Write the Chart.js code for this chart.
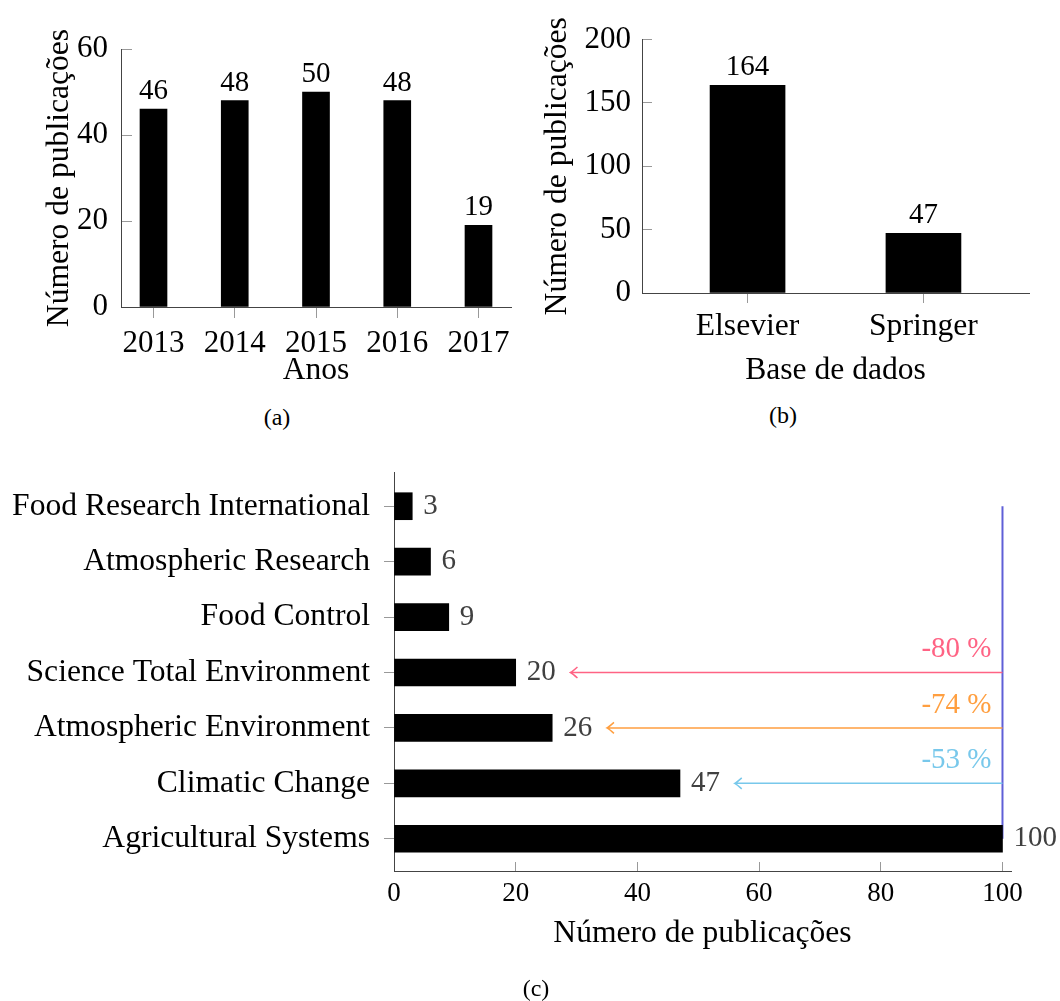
<!DOCTYPE html>
<html>
<head>
<meta charset="utf-8">
<title>Publicações</title>
<script src="https://cdn.jsdelivr.net/npm/chart.js@4"></script>
<style>
  body { margin: 0; background: #fff; }
  #page { position: relative; width: 1060px; height: 1001px; overflow: hidden; }
  canvas { position: absolute; }
  #chartA { left: 0; top: 0; }
  #chartB { left: 520px; top: 0; }
  #chartC { left: 0; top: 440px; }
  .caption {
    position: absolute;
    font-family: 'Liberation Serif', 'Times New Roman', serif;
    font-size: 24px;
    line-height: 24px;
    transform: translate(-50%, -50%);
  }
</style>
</head>
<body>
<div id="page">
  <canvas id="chartA" width="530" height="400"></canvas>
  <canvas id="chartB" width="540" height="400"></canvas>
  <canvas id="chartC" width="1060" height="561"></canvas>
  <div class="caption" style="left:277px; top:417px">(a)</div>
  <div class="caption" style="left:783px; top:415px">(b)</div>
  <div class="caption" style="left:536px; top:988px">(c)</div>
</div>
<script>
// (a) publicações por ano
const anos = [2013, 2014, 2015, 2016, 2017];
const pubPorAno = [46, 48, 50, 48, 19];
const ticksAnoY = [0, 20, 40, 60];

// (b) publicações por base de dados
const bases = ['Elsevier', 'Springer'];
const pubPorBase = [164, 47];
const ticksBaseY = [0, 50, 100, 150, 200];

// (c) publicações por periódico (de baixo para cima)
const periodicos = [
  'Agricultural Systems',
  'Climatic Change',
  'Atmospheric Environment',
  'Science Total Environment',
  'Food Control',
  'Atmospheric Research',
  'Food Research International'
];
const pubPorPeriodico = [100, 47, 26, 20, 9, 6, 3];
const ticksPeriodicoX = [0, 20, 40, 60, 80, 100];
// periódicos comparados com o primeiro (Agricultural Systems)
const comparados = ['Science Total Environment', 'Atmospheric Environment', 'Climatic Change'];
const coresComparacao = ['rgb(255, 99, 132)', 'rgb(255, 159, 64)', 'rgb(120, 200, 235)'];

const serif = "'Liberation Serif', 'Times New Roman', serif";
const axisColor = '#444';
const tickColor = '#999';
const textFont = { family: serif, size: 31.6 };

function fixTicks(values) {
  return function (scale) { scale.ticks = values.map(v => ({ value: v })); };
}

// rótulos de valor sobre / ao lado das barras
function valueLabels(values, horizontal, size, color) {
  return {
    id: 'valueLabels',
    afterDatasetsDraw(chart) {
      const ctx = chart.ctx;
      ctx.save();
      ctx.font = size + 'px ' + serif;
      ctx.fillStyle = color;
      chart.getDatasetMeta(0).data.forEach((bar, i) => {
        if (horizontal) {
          ctx.textAlign = 'left';
          ctx.textBaseline = 'middle';
          ctx.fillText(String(values[i]), bar.x + 11, bar.y);
        } else {
          ctx.textAlign = 'center';
          ctx.textBaseline = 'alphabetic';
          ctx.fillText(String(values[i]), bar.x, bar.y - 10);
        }
      });
      ctx.restore();
    }
  };
}

// (a)
new Chart(document.getElementById('chartA'), {
  type: 'bar',
  data: {
    datasets: [{
      data: anos.map((a, i) => ({ x: a, y: pubPorAno[i] })),
      backgroundColor: '#000',
      barThickness: 27
    }]
  },
  options: {
    responsive: false,
    animation: false,
    layout: { padding: { top: 49, right: 19, bottom: 0, left: 0 } },
    plugins: { legend: { display: false }, tooltip: { enabled: false } },
    scales: {
      x: {
        type: 'linear', min: 2012.6, max: 2017.4, offset: false,
        afterBuildTicks: fixTicks(anos),
        afterFit: s => { s.height = 93; },
        grid: { offset: false, drawOnChartArea: false, tickLength: 11, color: tickColor },
        border: { color: axisColor, width: 1 },
        ticks: { font: { family: serif, size: 31 }, color: '#000', padding: 7,
                 maxRotation: 0, autoSkip: false, callback: v => String(v) },
        title: { display: true, text: 'Anos', color: '#000',
                 font: textFont, padding: { top: 0, bottom: 10 } }
      },
      y: {
        min: 0, max: 60,
        afterBuildTicks: fixTicks(ticksAnoY),
        afterFit: s => { s.width = 121; },
        grid: { drawOnChartArea: false, tickLength: -11, color: tickColor },
        border: { color: axisColor, width: 1 },
        ticks: { font: { family: serif, size: 31 }, color: '#000', padding: 24 },
        title: { display: true, text: 'Número de publicações', color: '#000',
                 font: textFont, padding: { top: 41, bottom: 0 } }
      }
    }
  },
  plugins: [valueLabels(pubPorAno, false, 29, '#000')]
});

// (b)
new Chart(document.getElementById('chartB'), {
  type: 'bar',
  data: {
    datasets: [{
      data: bases.map((b, i) => ({ x: i, y: pubPorBase[i] })),
      backgroundColor: '#000',
      barThickness: 75
    }]
  },
  options: {
    responsive: false,
    animation: false,
    layout: { padding: { top: 34, right: 31, bottom: 0, left: 0 } },
    plugins: { legend: { display: false }, tooltip: { enabled: false } },
    scales: {
      x: {
        type: 'linear', min: -0.6, max: 1.6, offset: false,
        afterBuildTicks: fixTicks(bases.map((b, i) => i)),
        afterFit: s => { s.height = 107; },
        grid: { offset: false, drawOnChartArea: false, tickLength: 10, color: tickColor },
        border: { color: axisColor, width: 1 },
        ticks: { font: textFont, color: '#000', padding: 5,
                 maxRotation: 0, autoSkip: false, callback: v => bases[v] },
        title: { display: true, text: 'Base de dados', color: '#000',
                 font: textFont, padding: { top: 0, bottom: 10 } }
      },
      y: {
        min: 0, max: 200,
        afterBuildTicks: fixTicks(ticksBaseY),
        afterFit: s => { s.width = 122; },
        grid: { drawOnChartArea: false, tickLength: -10, color: tickColor },
        border: { color: axisColor, width: 1 },
        ticks: { font: { family: serif, size: 31 }, color: '#000', padding: 21 },
        title: { display: true, text: 'Número de publicações', color: '#000',
                 font: textFont, padding: { top: 19, bottom: 0 } }
      }
    }
  },
  plugins: [valueLabels(pubPorBase, false, 29, '#000')]
});

// (c) linha de referência e setas de comparação
const comparacao = {
  id: 'comparacao',
  beforeDatasetsDraw(chart) {
    const ctx = chart.ctx, xs = chart.scales.x, ys = chart.scales.y;
    const x = xs.getPixelForValue(pubPorPeriodico[0]);
    ctx.save();
    ctx.strokeStyle = 'rgb(95, 95, 215)';
    ctx.lineWidth = 2;
    ctx.beginPath();
    ctx.moveTo(x, ys.getPixelForValue(periodicos.length - 1));
    ctx.lineTo(x, ys.getPixelForValue(0));
    ctx.stroke();
    ctx.restore();
  },
  afterDatasetsDraw(chart) {
    const ctx = chart.ctx, xs = chart.scales.x, ys = chart.scales.y;
    const ref = pubPorPeriodico[0];
    const x0 = xs.getPixelForValue(ref);
    ctx.save();
    ctx.font = '29px ' + serif;
    ctx.textAlign = 'right';
    ctx.textBaseline = 'alphabetic';
    ctx.lineWidth = 1.5;
    comparados.forEach((nome, k) => {
      const i = periodicos.indexOf(nome);
      const v = pubPorPeriodico[i];
      const y = ys.getPixelForValue(i);
      const x1 = xs.getPixelForValue(v + 9);
      ctx.strokeStyle = coresComparacao[k];
      ctx.fillStyle = coresComparacao[k];
      ctx.beginPath();
      ctx.moveTo(x0, y);
      ctx.lineTo(x1, y);
      ctx.moveTo(x1 + 7, y - 5.5);
      ctx.quadraticCurveTo(x1 + 2, y - 1, x1, y);
      ctx.quadraticCurveTo(x1 + 2, y + 1, x1 + 7, y + 5.5);
      ctx.stroke();
      const pct = Math.round((v - ref) / ref * 100);
      ctx.fillText(pct + ' %', x0 - 11, y - 15);
    });
    ctx.restore();
  }
};

new Chart(document.getElementById('chartC'), {
  type: 'bar',
  data: {
    datasets: [{
      data: periodicos.map((p, i) => ({ x: pubPorPeriodico[i], y: i })),
      backgroundColor: '#000',
      barThickness: 27
    }]
  },
  options: {
    indexAxis: 'y',
    responsive: false,
    animation: false,
    layout: { padding: { top: 23, right: 49, bottom: 0, left: 0 } },
    plugins: { legend: { display: false }, tooltip: { enabled: false } },
    scales: {
      x: {
        type: 'linear', min: 0, max: 101.4,
        afterBuildTicks: fixTicks(ticksPeriodicoX),
        afterFit: s => { s.height = 129; },
        grid: { drawOnChartArea: false, tickLength: -10, color: tickColor },
        border: { color: axisColor, width: 1 },
        ticks: { font: { family: serif, size: 27 }, color: '#000', padding: 16, maxRotation: 0 },
        title: { display: true, text: 'Número de publicações', color: '#000',
                 font: textFont, padding: { top: 0, bottom: 48 } }
      },
      y: {
        type: 'linear', min: -0.6, max: 6.6, offset: false,
        afterBuildTicks: fixTicks(periodicos.map((p, i) => i)),
        afterFit: s => { s.width = 394; },
        grid: { offset: false, drawOnChartArea: false, tickLength: 10, color: tickColor },
        border: { color: axisColor, width: 1 },
        ticks: { font: textFont, color: '#000', padding: 14,
                 autoSkip: false, callback: v => periodicos[v] }
      }
    }
  },
  plugins: [comparacao, valueLabels(pubPorPeriodico, true, 29, '#404040')]
});
</script>
</body>
</html>
